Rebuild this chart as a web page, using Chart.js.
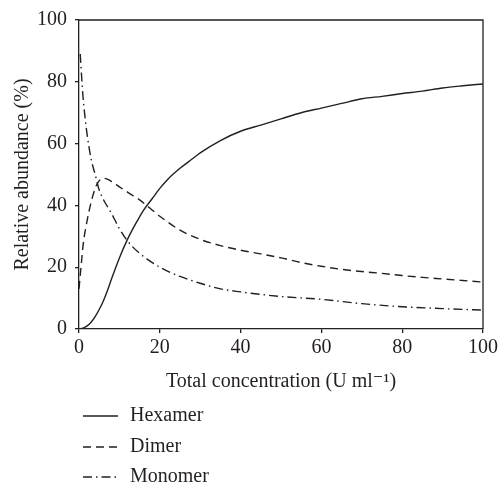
<!DOCTYPE html>
<html>
<head>
<meta charset="utf-8">
<script src="https://cdn.jsdelivr.net/npm/chart.js@4"></script>
<style>
  html, body { margin: 0; padding: 0; background: #fff; }
  #wrap { width: 501px; height: 485px; }
</style>
</head>
<body>
<div id="wrap"><canvas id="chart"></canvas></div>
<script>
// DATA
const hexamerX = [0, 1, 2, 3, 4, 5, 6, 7, 8, 10, 12, 14, 16, 18, 20, 22, 25, 28, 30, 35, 40, 45, 50, 55, 60, 65, 70, 75, 80, 85, 90, 95, 100];
const hexamerY = [0, 0.3, 1, 2.2, 4, 6.3, 9, 12.3, 16, 23, 29, 34, 38.5, 42, 45.5, 48.5, 52, 55, 57, 61, 64, 66, 68, 70, 71.5, 73, 74.5, 75.3, 76.2, 77, 78, 78.7, 79.3];

const dimerX = [0, 0.5, 1, 2, 3, 4, 5, 6, 7, 8, 10, 12, 15, 17, 20, 25, 30, 35, 40, 45, 50, 55, 60, 65, 70, 75, 80, 85, 90, 95, 100];
const dimerY = [13, 20, 27, 35, 41, 45.5, 48, 48.8, 48.5, 47.8, 46, 44.3, 41.8, 39.7, 36.5, 32, 29, 27, 25.5, 24.3, 23, 21.5, 20.3, 19.3, 18.6, 18, 17.3, 16.7, 16.2, 15.7, 15.2];

const monomerX = [0.3, 1, 1.5, 2, 3, 4, 5, 6, 8, 10, 12, 15, 20, 25, 30, 35, 40, 45, 50, 60, 70, 80, 90, 100];
const monomerY = [89, 75, 68.5, 63, 55, 50, 45, 42, 37.5, 32.5, 28.5, 24.5, 20, 17, 14.8, 13, 12, 11.2, 10.5, 9.6, 8.2, 7.2, 6.6, 6.1];

const xTicks = [0, 20, 40, 60, 80, 100];
const yTicks = [0, 20, 40, 60, 80, 100];

const ink = '#231f20';
const fontFamily = '"Liberation Serif", "DejaVu Serif", serif';

function toPoints(xs, ys) {
  return xs.map((x, i) => ({ x: x, y: ys[i] }));
}

// frame on top / right + legend drawn below the axis title
const framePlugin = {
  id: 'frame',
  afterDraw(chart) {
    const ctx = chart.ctx;
    const a = chart.chartArea;
    ctx.save();
    ctx.strokeStyle = ink;
    ctx.lineWidth = 1.3;
    ctx.beginPath();
    ctx.moveTo(a.left, a.top);
    ctx.lineTo(a.right, a.top);
    ctx.lineTo(a.right, a.bottom);
    ctx.stroke();

    const rows = [416, 447, 477];
    ctx.font = '20px ' + fontFamily;
    ctx.textBaseline = 'middle';
    ctx.fillStyle = ink;
    chart.data.datasets.forEach((ds, i) => {
      ctx.setLineDash(ds.borderDash || []);
      ctx.lineWidth = ds.borderWidth;
      ctx.beginPath();
      ctx.moveTo(83, rows[i]);
      ctx.lineTo(118, rows[i]);
      ctx.stroke();
      ctx.fillText(ds.label, 130, rows[i]);
    });
    ctx.restore();
  }
};

const ctx = document.getElementById('chart').getContext('2d');
new Chart(ctx, {
  type: 'line',
  data: {
    datasets: [{
      label: 'Hexamer',
      data: toPoints(hexamerX, hexamerY),
      borderColor: ink,
      borderWidth: 1.4,
      borderDash: [],
      pointRadius: 0,
      cubicInterpolationMode: 'monotone'
    }, {
      label: 'Dimer',
      data: toPoints(dimerX, dimerY),
      borderColor: ink,
      borderWidth: 1.4,
      borderDash: [8, 5],
      pointRadius: 0,
      cubicInterpolationMode: 'monotone'
    }, {
      label: 'Monomer',
      data: toPoints(monomerX, monomerY),
      borderColor: ink,
      borderWidth: 1.4,
      borderDash: [9, 4, 1.5, 4],
      pointRadius: 0,
      cubicInterpolationMode: 'monotone'
    }]
  },
  options: {
    responsive: true,
    maintainAspectRatio: false,
    animation: false,
    layout: {
      padding: { left: 0, right: 15, top: 20, bottom: 90 }
    },
    plugins: {
      legend: { display: false },
      tooltip: { enabled: false }
    },
    scales: {
      x: {
        type: 'linear',
        min: 0,
        max: 100,
        afterFit: (scale) => { scale.height = 66; },
        afterBuildTicks: (scale) => { scale.ticks = xTicks.map(v => ({ value: v })); },
        grid: { display: true, drawOnChartArea: false, drawTicks: true, tickLength: 4, color: ink, lineWidth: 1.3 },
        border: { display: true, color: ink, width: 1.3 },
        ticks: { color: ink, padding: 3, maxRotation: 0, font: { family: fontFamily, size: 20 } },
        title: {
          display: true,
          text: 'Total concentration (U ml\u207B\u00B9)',
          color: ink,
          padding: { top: 0, bottom: 1 },
          font: { family: fontFamily, size: 20 }
        }
      },
      y: {
        type: 'linear',
        min: 0,
        max: 100,
        afterFit: (scale) => { scale.width = 79; },
        afterBuildTicks: (scale) => { scale.ticks = yTicks.map(v => ({ value: v })); },
        grid: { display: true, drawOnChartArea: false, drawTicks: true, tickLength: 4, color: ink, lineWidth: 1.3 },
        border: { display: true, color: ink, width: 1.3 },
        ticks: { color: ink, padding: 8, font: { family: fontFamily, size: 20 } },
        title: {
          display: true,
          text: 'Relative abundance (%)',
          color: ink,
          padding: { top: 11, bottom: 0 },
          font: { family: fontFamily, size: 20 }
        }
      }
    }
  },
  plugins: [framePlugin]
});
</script>
</body>
</html>
